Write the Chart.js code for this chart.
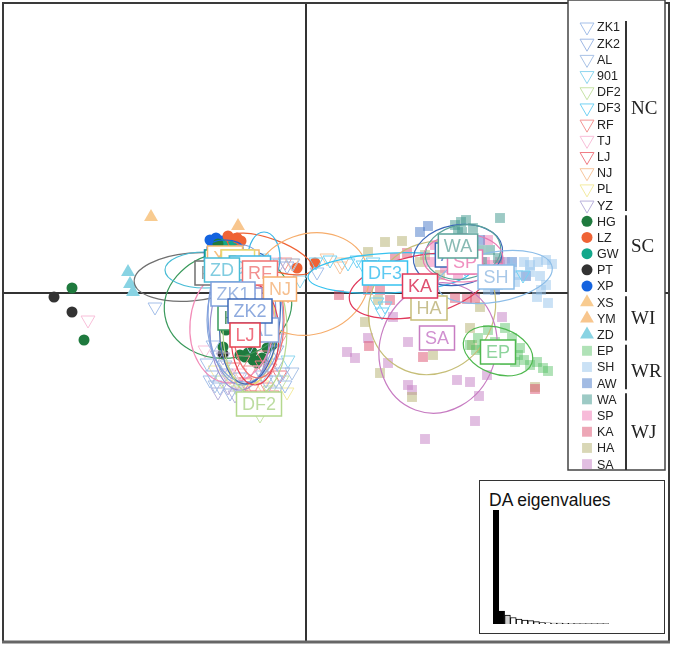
<!DOCTYPE html>
<html>
<head>
<meta charset="utf-8">
<script src="https://cdn.jsdelivr.net/npm/chart.js@4.4.0/dist/chart.umd.min.js"></script>
<style>
  body { margin: 0; background: #fff; }
  #wrap { position: relative; width: 697px; height: 645px; }
  #dapc { position: absolute; left: 0; top: 0; }
  #inset { position: absolute; left: 479px; top: 480px; width: 184px; height: 152px; border: 1px solid #333; background: #fff; }
  #insetTitle { position: absolute; left: 9px; top: 9px; font: 17.5px "Liberation Sans", Arial, sans-serif; color: #111; white-space: nowrap; }
  #autovalores { position: absolute; left: 13px; top: 29px; }
</style>
</head>
<body>
<div id="wrap">
  <canvas id="dapc" width="697" height="645"></canvas>
  <div id="inset">
    <div id="insetTitle">DA eigenvalues</div>
    <canvas id="autovalores" width="116" height="114"></canvas>
  </div>
</div>
<script>
// Grupos e regiões (ordem da legenda)
const grupos = ['ZK1','ZK2','AL','901','DF2','DF3','RF','TJ','LJ','NJ','PL','YZ',
                'HG','LZ','GW','PT','XP','XS','YM','ZD','EP','SH','AW','WA','SP','KA','HA','SA'];
const regioes = ['NC','SC','WI','WR','WJ'];
const regiaoDoGrupo = ['NC','NC','NC','NC','NC','NC','NC','NC','NC','NC','NC','NC',
                       'SC','SC','SC','SC','SC','WI','WI','WI','WR','WR','WR','WJ','WJ','WJ','WJ','WJ'];

// Coordenadas dos indivíduos (DA1, DA2)
const pZK1 = [[-15.1,-1.4],[-9.3,-5.2],[-9.9,-7.0],[-8.6,-9.4],[-3.0,-8.7],[-3.6,2.3],[1.1,2.1],[-6.6,-8.4],[-2.1,-9.2],[-9.6,-8.7]];
const pZK2 = [[-2.9,-5.7],[-2.9,-7.0],[-2.3,-7.9],[-4.0,-8.7],[-1.9,2.7],[-7.6,-10.0],[-9.4,-8.2]];
const pAL  = [[-8.1,-7.2],[-4.4,-8.2],[-2.6,1.0],[-1.3,3.0],[-9.1,-9.2],[-5.6,-5.2],[-1.4,-7.9],[-3.1,-9.9]];
const p901 = [[-3.3,3.0],[-0.6,1.3],[-4.4,3.5],[-1.8,-6.7],[-6.1,3.1]];
const pDF2 = [[-4.6,-12.2],[-6.8,-9.7],[-5.1,-10.5],[-3.6,-9.7],[-8.4,-8.7],[-2.4,-8.7]];
const pDF3 = [[1.0,3.1],[2.4,3.3],[4.2,3.0],[5.1,3.3],[5.7,2.8],[7.1,-0.9],[7.9,-1.3],[7.6,-1.9],[21.7,1.8],[15.9,2.5],[6.7,3.1],[16.4,3.1]];
const pRF  = [[-5.6,-7.7],[-3.6,-7.5],[-3.9,-9.4],[-5.3,-9.4],[-2.6,-4.5],[-2.1,3.1],[-4.8,-10.2],[-6.3,-6.7]];
const pTJ  = [[-21.8,-2.7],[-6.6,-8.0],[-4.6,-7.7],[-7.8,-8.2],[-10.1,-5.7],[-3.1,3.1]];
const pLJ  = [[-7.3,-7.4],[-5.6,-10.2],[-4.3,-6.2],[-6.1,-8.9],[-3.4,-10.2],[-2.6,-8.2],[-4.4,-7.2]];
const pNJ  = [[-5.9,-9.0],[-6.9,-8.9],[-1.4,3.0],[2.1,3.5],[3.6,3.1],[3.4,2.7],[-1.8,-0.2]];
const pPL  = [[-7.6,-8.4],[-4.4,-9.2],[-9.1,-7.7],[-1.9,-9.9]];
const pYZ  = [[-8.0,-8.0],[-7.8,-9.4],[-7.1,-10.2],[-8.9,-6.2],[-8.3,-6.4],[-2.6,3.0],[-6.6,-9.9],[-8.8,-9.9]];
const pHG  = [[-23.4,0.5],[-22.2,-4.7],[-8.0,-3.7],[-8.3,-5.4],[-6.1,-6.4],[-5.8,-6.0],[-5.3,-6.7],[-4.9,-7.0],
              [-3.4,-5.2],[-3.9,-5.5],[-6.6,-6.2],[-5.4,-5.9],[-8.8,4.9],[-4.4,-6.5]];
const pLZ  = [[-7.8,5.7],[-6.9,5.5],[-6.5,5.2],[-0.9,2.5],[0.9,3.0]];
const pGW  = [[-7.8,5.2],[-7.3,5.0],[-8.2,4.9],[-7.0,4.9]];
const pPT  = [[-25.2,-0.4],[-23.4,-1.9],[-8.3,-6.1]];
const pXP  = [[-9.6,5.3],[-9.0,5.5],[-8.4,5.2],[-9.2,5.0]];
const pXS  = [[-15.5,7.6]];
const pYM  = [[-6.8,6.7]];
const pZD  = [[-17.8,2.1],[-17.6,0.9],[-17.3,0.1]];
const pEP  = [[16.4,-5.2],[17.0,-5.7],[17.6,-5.5],[18.2,-3.7],[17.2,-4.5],[18.9,-4.9],[19.9,-3.5],[20.6,-4.5],[21.2,-6.2],
              [21.8,-6.7],[22.4,-7.2],[23.1,-6.9],[23.7,-7.5],[24.2,-7.8],[19.9,-6.7],[19.4,-6.2],[18.4,-6.3],[20.9,-6.9],[21.4,-5.5]];
const pSH  = [[19.9,2.3],[20.6,2.5],[21.2,1.8],[21.8,3.1],[22.4,2.8],[23.2,3.1],[24.0,3.3],[23.5,0.3],[24.0,0.8],[23.1,-0.4],
              [18.2,0.3],[19.2,0.8],[20.9,1.1],[20.2,3.1],[24.2,-1.0],[22.4,2.1],[23.4,1.7],[24.6,2.9]];
const pAW  = [[12.2,6.7],[11.4,6.1],[18.1,1.1],[19.4,1.8],[18.9,0.3],[17.4,5.3],[19.6,2.3],[20.4,1.8],[20.6,3.1],[22.0,1.7]];
const pWA  = [[14.9,6.8],[15.5,7.1],[16.0,7.3],[16.7,6.5],[19.4,7.5],[16.6,3.5],[17.4,4.3],[18.4,4.3],[15.6,6.1],[19.2,3.5],
              [16.4,5.3],[17.6,3.1],[15.2,6.1]];
const pSP  = [[12.9,4.8],[13.4,4.1],[14.1,3.5],[14.9,5.3],[16.4,4.8],[17.2,3.8],[17.9,3.1],[18.6,2.8],[19.4,3.1],[15.6,2.5],
              [12.4,3.1],[13.9,2.5],[18.2,5.3],[15.2,1.8],[13.9,4.3],[14.6,3.5],[18.4,2.1],[19.9,3.1]];
const pKA  = [[3.3,-0.2],[6.3,-5.3],[11.7,-6.4],[10.1,4.0],[14.9,-0.5],[16.1,-0.6],[16.9,-0.5],[18.7,1.8],[22.9,-9.6],
              [7.4,0.3],[6.2,0.3],[6.6,2.8],[8.4,-0.7],[13.9,3.1],[16.4,2.3],[8.9,3.5],[13.4,3.8],[17.4,2.5],[19.4,2.8]];
const pHA  = [[7.9,5.1],[9.6,5.2],[5.9,-2.9],[7.4,-8.0],[12.7,-6.2],[16.4,-3.5],[16.6,-5.2],[10.6,-10.4],[17.4,-1.4],
              [22.9,-9.4],[6.2,4.1],[8.9,2.5],[11.4,3.1],[13.4,1.8],[7.2,-0.7],[11.9,3.8],[16.4,2.5]];
const pSA  = [[4.1,-5.9],[8.7,-2.4],[10.2,-4.9],[8.2,-7.0],[10.2,-9.2],[10.6,-9.7],[15.1,-8.7],[16.4,-8.9],[17.3,-10.3],
              [16.9,-12.8],[11.9,-14.6],[19.6,-2.4],[18.1,-8.2],[6.2,-4.5],[4.9,-6.5]];

// Rótulos dos grupos (posição do centróide), na ordem de desenho
const rotuloGrupo = ['XP','GW','LZ','XS','YM','TJ','PL','YZ','AL','901','PT','HG','ZD','RF','NJ','ZK1','ZK2','LJ','DF2',
                     'AW','SP','WA','SH','DF3','HA','KA','SA','EP'];
const rotuloX = [-8.4,-8.0,-7.8,-8.1,-6.6,-6.6,-6.8,-6.1,-4.4,-5.6,-9.4,-6.9,-8.4,-4.6,-2.6,-7.3,-5.6,-6.1,-4.7,
                 14.9,15.9,15.2,19.0,7.9,12.3,11.4,13.1,19.2];
const rotuloY = [3.1,3.1,2.8,3.5,3.1,1.0,3.1,-0.7,-3.7,2.5,2.0,-2.5,2.3,2.0,0.4,-0.1,-1.8,-4.2,-11.1,
                 3.8,3.1,4.7,1.6,2.0,-1.5,0.7,-4.5,-5.9];

// Elipses de inércia: centro, semi-eixos e ângulo (graus)
const elipseGrupo = ['PT','HG','ZD','LZ','XP','TJ','YZ','PL','AL','ZK1','ZK2','DF2','RF','LJ','901','NJ',
                     'DF3','HA','SA','KA','AW','WA','SP','SH','EP'];
const elipseCx = [-11.5,-7.8,-10.1,-3.6,-8.1,-7.4,-6.6,-5.8,-6.1,-6.4,-5.6,-5.1,-4.8,-5.1,-4.2,0.4,
                  8.4,12.6,13.2,11.2,15.2,15.7,15.7,18.9,19.2];
const elipseCy = [1.6,-1.2,2.3,3.9,4.5,-3.2,-3.7,-3.7,-2.7,-2.2,-2.5,-3.7,-2.7,-4.2,3.5,0.9,
                  2.0,-1.5,-5.5,0.7,3.8,4.1,3.5,1.6,-5.8];
const elipseRx = [5.7,6.4,4.0,4.5,1.8,4.2,3.0,2.8,3.8,3.4,3.0,3.2,2.6,2.4,1.6,6.0,
                  8.2,6.2,5.8,7.0,4.5,3.8,4.0,5.8,3.6];
const elipseRy = [2.4,5.3,1.8,1.5,0.8,5.8,6.0,5.5,6.2,7.0,6.6,6.5,5.8,5.0,2.6,5.0,
                  2.0,6.8,6.6,3.0,3.0,2.7,2.4,2.5,2.3];
const elipseAng = [5,10,0,-20,0,-5,0,0,0,0,-5,0,0,0,0,20,
                   3,-30,-20,12,10,10,0,10,-20];

// Autovalores da DA (inserção)
const autovalores = [114,13,9,6.5,5,4,3.3,2.3,1.5,1.2,1.0,0.8,0.7,0.6,0.5,0.5,0.4,0.4,0.3,0.3];

const pontos = {ZK1:pZK1, ZK2:pZK2, AL:pAL, '901':p901, DF2:pDF2, DF3:pDF3, RF:pRF, TJ:pTJ, LJ:pLJ, NJ:pNJ, PL:pPL, YZ:pYZ,
                HG:pHG, LZ:pLZ, GW:pGW, PT:pPT, XP:pXP, XS:pXS, YM:pYM, ZD:pZD,
                EP:pEP, SH:pSH, AW:pAW, WA:pWA, SP:pSP, KA:pKA, HA:pHA, SA:pSA};

// Estilos
const corPonto = {ZK1:'#a4bfe9', ZK2:'#9fb8e4', AL:'#a9c2e6', '901':'#8dd6ef', DF2:'#c6e3a6', DF3:'#72d2f4', RF:'#f39494',
                  TJ:'#f8bfd9', LJ:'#f07b84', NJ:'#f7c69d', PL:'#f3eba0', YZ:'#b9b1dc',
                  HG:'#1f7a3e', LZ:'#ef6335', GW:'#13a88b', PT:'#333333', XP:'#1463df',
                  XS:'#f8cb90', YM:'#f8c68e', ZD:'#88d3e3',
                  EP:'rgba(80,190,95,0.45)', SH:'rgba(150,195,235,0.5)', AW:'rgba(70,120,200,0.5)',
                  WA:'rgba(60,150,140,0.5)', SP:'rgba(240,120,180,0.5)', KA:'rgba(220,80,110,0.5)',
                  HA:'rgba(180,175,110,0.5)', SA:'rgba(195,125,195,0.5)'};
const corLinha = {ZK1:'#7f9fdc', ZK2:'#3c68b8', AL:'#8aa6dc', '901':'#3cb6e6', DF2:'#b4d88e', DF3:'#36c2ef', RF:'#f07272',
                  TJ:'#f28cb8', LJ:'#e6404f', NJ:'#f6ad6c', PL:'#e8d870', YZ:'#9d90cf',
                  HG:'#3a9a5c', LZ:'#ef6335', GW:'#13a88b', PT:'#707070', XP:'#1463df',
                  XS:'#f6b870', YM:'#f6b870', ZD:'#48bcd6',
                  EP:'#4fb84f', SH:'#8cbde8', AW:'#3d68b8', WA:'#5aa39a', SP:'#e87ab2', KA:'#e0385a', HA:'#c6be78', SA:'#c77cc2'};
const corTexto = {ZK1:'#9cb6e2', ZK2:'#8eaade', AL:'#9cb6e2', '901':'#80d0ee', DF2:'#bcdca0', DF3:'#5ccaf2', RF:'#f29090',
                  TJ:'#f4a8cc', LJ:'#f07080', NJ:'#f6c090', PL:'#e8e090', YZ:'#a8a0d8',
                  HG:'#5a9a70', LZ:'#f08060', GW:'#40b8a0', PT:'#a0a0a0', XP:'#5080e0',
                  XS:'#f6c080', YM:'#f6c080', ZD:'#80cce0',
                  EP:'#8ed49c', SH:'#a8c8e8', AW:'#7090d0', WA:'#88bab4', SP:'#f090c0', KA:'#e05070', HA:'#c8c090', SA:'#d090d0'};

function estiloPonto(regiao) {
  if (regiao === 'NC') return {pointStyle:'triangle', rotation:180, radius:8, borderWidth:1, cheio:false};
  if (regiao === 'SC') return {pointStyle:'circle', rotation:0, radius:5.5, borderWidth:0, cheio:true};
  if (regiao === 'WI') return {pointStyle:'triangle', rotation:0, radius:8, borderWidth:0, cheio:true};
  return {pointStyle:'rect', rotation:0, radius:7, borderWidth:0, cheio:true};
}

const datasets = grupos.map((g, i) => {
  const e = estiloPonto(regiaoDoGrupo[i]);
  return {
    label: g,
    data: pontos[g].map(p => ({x: p[0], y: p[1]})),
    pointStyle: e.pointStyle,
    rotation: e.rotation,
    pointRadius: e.radius,
    borderWidth: e.borderWidth,
    borderColor: corPonto[g],
    backgroundColor: e.cheio ? corPonto[g] : 'rgba(0,0,0,0)'
  };
});

const fonteSans = '"Liberation Sans", Arial, sans-serif';

const pluginDapc = {
  id: 'dapc',
  beforeDatasetsDraw(chart) {
    const {ctx, chartArea: a, scales: {x, y}} = chart;
    ctx.save();
    ctx.strokeStyle = '#333';
    ctx.lineWidth = 2;
    ctx.beginPath();
    ctx.moveTo(a.left, y.getPixelForValue(0));
    ctx.lineTo(a.right, y.getPixelForValue(0));
    ctx.moveTo(x.getPixelForValue(0), a.top);
    ctx.lineTo(x.getPixelForValue(0), a.bottom);
    ctx.stroke();
    ctx.restore();
  },
  afterDatasetsDraw(chart) {
    const {ctx, scales: {x, y}} = chart;
    const kx = Math.abs(x.getPixelForValue(1) - x.getPixelForValue(0));
    const ky = Math.abs(y.getPixelForValue(1) - y.getPixelForValue(0));
    ctx.save();
    // elipses
    ctx.lineWidth = 1.2;
    elipseGrupo.forEach((g, i) => {
      ctx.strokeStyle = corLinha[g];
      ctx.beginPath();
      ctx.ellipse(x.getPixelForValue(elipseCx[i]), y.getPixelForValue(elipseCy[i]),
                  elipseRx[i] * kx, elipseRy[i] * ky, -elipseAng[i] * Math.PI / 180, 0, 2 * Math.PI);
      ctx.stroke();
    });
    // rótulos
    ctx.font = '18px ' + fonteSans;
    ctx.textAlign = 'center';
    ctx.textBaseline = 'middle';
    rotuloGrupo.forEach((g, i) => {
      const px = x.getPixelForValue(rotuloX[i]);
      const py = y.getPixelForValue(rotuloY[i]);
      const w = ctx.measureText(g).width + 11;
      const h = 24;
      ctx.fillStyle = '#fff';
      ctx.fillRect(px - w / 2, py - h / 2, w, h);
      ctx.strokeStyle = corLinha[g];
      ctx.lineWidth = 1.5;
      ctx.strokeRect(px - w / 2, py - h / 2, w, h);
      ctx.fillStyle = corTexto[g];
      ctx.fillText(g, px, py + 1);
    });
    ctx.restore();
  },
  afterDraw(chart) {
    const {ctx, chartArea: a} = chart;
    ctx.save();
    // moldura
    ctx.strokeStyle = '#3a3a3a';
    ctx.lineWidth = 2;
    ctx.beginPath();
    ctx.moveTo(a.left + 1, a.bottom);
    ctx.lineTo(a.left + 1, a.top);
    ctx.lineTo(a.right, a.top);
    ctx.lineTo(a.right, a.bottom);
    ctx.stroke();
    ctx.strokeStyle = '#666';
    ctx.lineWidth = 3;
    ctx.beginPath();
    ctx.moveTo(a.left, a.bottom);
    ctx.lineTo(a.right + 1, a.bottom);
    ctx.stroke();

    // legenda
    const lx0 = a.right - 101, lx1 = a.right - 4, ly0 = a.top - 3, ly1 = 470;
    ctx.fillStyle = '#fff';
    ctx.fillRect(lx0, ly0, lx1 - lx0, ly1 - ly0);
    ctx.strokeStyle = '#444';
    ctx.lineWidth = 1.5;
    ctx.strokeRect(lx0, ly0, lx1 - lx0, ly1 - ly0);

    const y0 = 27, passo = 16.19;
    ctx.font = '12.5px ' + fonteSans;
    ctx.textAlign = 'left';
    ctx.textBaseline = 'middle';
    grupos.forEach((g, i) => {
      const e = estiloPonto(regiaoDoGrupo[i]);
      const yy = y0 + i * passo;
      ctx.fillStyle = e.cheio ? corPonto[g] : 'rgba(0,0,0,0)';
      ctx.strokeStyle = corPonto[g];
      ctx.lineWidth = e.borderWidth || 1;
      Chart.helpers.drawPoint(ctx, {pointStyle: e.pointStyle, radius: e.radius, rotation: e.rotation, borderWidth: e.borderWidth},
                              lx0 + 19, yy);
      ctx.fillStyle = '#222';
      ctx.fillText(g, lx0 + 29, yy + 1);
    });

    // chaves das regiões
    const posRotulo = {NC: 5, SC: 13.5, WI: 18, WR: 21.25, WJ: 25};
    regioes.forEach(r => {
      const idx = regiaoDoGrupo.map((v, i) => v === r ? i : -1).filter(i => i >= 0);
      const ya = y0 + idx[0] * passo - 6;
      const yb = Math.min(y0 + idx[idx.length - 1] * passo + 6, ly1);
      ctx.strokeStyle = '#333';
      ctx.lineWidth = 2;
      ctx.beginPath();
      ctx.moveTo(lx0 + 58, ya);
      ctx.lineTo(lx0 + 58, yb);
      ctx.stroke();
      ctx.fillStyle = '#222';
      ctx.font = '19px "Liberation Serif", "Times New Roman", serif';
      ctx.fillText(r, lx0 + 63, y0 + posRotulo[r] * passo + 1);
    });
    ctx.restore();
  }
};

new Chart(document.getElementById('dapc'), {
  type: 'scatter',
  data: {datasets: datasets},
  options: {
    responsive: false,
    animation: false,
    devicePixelRatio: 1,
    layout: {autoPadding: false, padding: {left: 2, top: 3, right: 28, bottom: 3}},
    scales: {
      x: {type: 'linear', display: false, min: -30.4, max: 36.3},
      y: {type: 'linear', display: false, min: -34.9, max: 29.0}
    },
    plugins: {legend: {display: false}, tooltip: {enabled: false}}
  },
  plugins: [pluginDapc]
});

// Gráfico dos autovalores
new Chart(document.getElementById('autovalores'), {
  type: 'bar',
  data: {
    labels: autovalores.map((v, i) => String(i + 1)),
    datasets: [{
      data: autovalores,
      backgroundColor: autovalores.map((v, i) => i < 2 ? '#000' : (i === 2 ? '#d0d0d0' : '#fff')),
      borderColor: '#000',
      borderWidth: 1,
      barPercentage: 1,
      categoryPercentage: 1
    }]
  },
  options: {
    responsive: false,
    animation: false,
    devicePixelRatio: 1,
    layout: {autoPadding: false, padding: 0},
    scales: {x: {display: false}, y: {display: false, min: 0, max: 114}},
    plugins: {legend: {display: false}, tooltip: {enabled: false}}
  }
});
</script>
</body>
</html>
